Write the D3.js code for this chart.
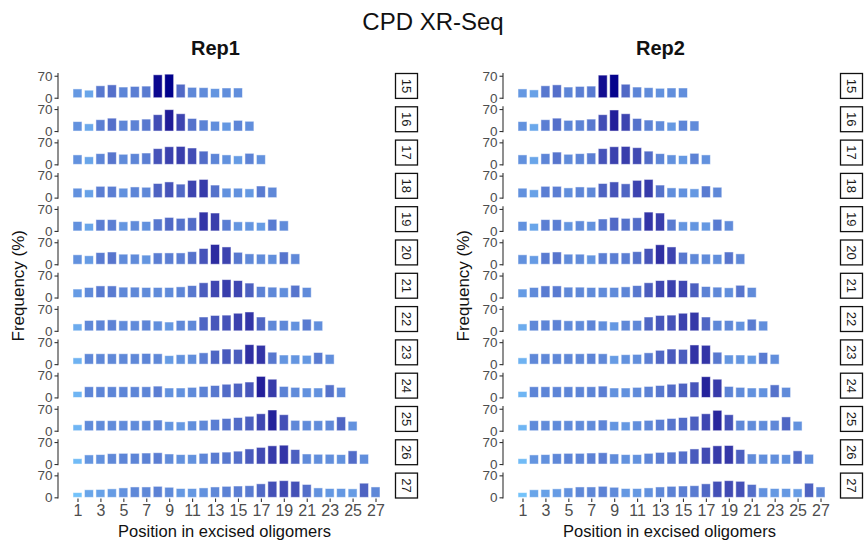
<!DOCTYPE html>
<html>
<head>
<meta charset="utf-8">
<script src="https://cdn.jsdelivr.net/npm/d3@7"></script>
<style>
  html, body { margin: 0; padding: 0; background: #fff; }
  svg { display: block; font-family: "Liberation Sans", Arial, Helvetica, sans-serif; }
</style>
</head>
<body>
<svg id="chart" width="867" height="548"></svg>
<script>
// Oligomer lengths (one facet row each) and x-axis tick labels
const lengths = [15, 16, 17, 18, 19, 20, 21, 22, 23, 24, 25, 26, 27];
const xTicks = [1, 3, 5, 7, 9, 11, 13, 15, 17, 19, 21, 23, 25, 27];
const yTicks = [0, 70];
const replicates = ["Rep1", "Rep2"];

// Rep1: frequency (%) at each position of the excised oligomer
const rep1_15 = [28, 24, 38, 41, 34, 36, 37, 73, 75, 43, 33, 32, 29, 31, 31];
const rep1_16 = [30, 23, 36, 41, 34, 35, 38, 52, 68, 55, 40, 35, 31, 28, 34, 31];
const rep1_17 = [30, 24, 34, 39, 32, 34, 36, 50, 56, 57, 52, 42, 34, 30, 27, 35, 30];
const rep1_18 = [30, 25, 36, 36, 30, 34, 33, 45, 50, 43, 55, 58, 40, 30, 30, 28, 37, 33];
const rep1_19 = [30, 24, 36, 36, 29, 32, 30, 38, 43, 40, 42, 60, 57, 36, 29, 29, 27, 37, 32];
const rep1_20 = [30, 27, 37, 39, 32, 32, 29, 36, 36, 36, 40, 50, 63, 55, 38, 33, 32, 31, 39, 33];
const rep1_21 = [27, 32, 37, 37, 33, 33, 32, 32, 32, 34, 38, 47, 54, 57, 54, 46, 35, 33, 31, 39, 32];
const rep1_22 = [22, 33, 34, 35, 32, 32, 34, 31, 28, 33, 33, 44, 49, 50, 56, 60, 44, 33, 33, 30, 37, 31];
const rep1_23 = [20, 33, 33, 33, 33, 33, 34, 33, 27, 30, 31, 36, 44, 48, 47, 62, 60, 38, 29, 29, 28, 37, 31];
const rep1_24 = [19, 34, 34, 34, 34, 34, 34, 36, 30, 30, 32, 35, 38, 42, 45, 49, 67, 58, 35, 32, 30, 30, 40, 32];
const rep1_25 = [19, 32, 32, 32, 32, 32, 32, 34, 29, 28, 31, 33, 36, 39, 42, 46, 54, 66, 51, 33, 32, 32, 33, 44, 30];
const rep1_26 = [17, 29, 30, 33, 34, 34, 35, 36, 32, 30, 30, 34, 37, 38, 41, 48, 53, 58, 60, 46, 32, 31, 31, 30, 42, 31];
const rep1_27 = [15, 24, 25, 27, 30, 33, 33, 35, 32, 28, 28, 30, 33, 35, 36, 37, 43, 51, 53, 51, 41, 30, 28, 28, 27, 45, 33];

// Rep2: frequency (%) at each position of the excised oligomer
const rep2_15 = [28, 25, 38, 41, 34, 36, 37, 72, 74, 43, 34, 32, 30, 31, 31];
const rep2_16 = [30, 23, 36, 41, 34, 35, 38, 52, 67, 55, 40, 35, 32, 28, 34, 32];
const rep2_17 = [30, 24, 34, 39, 32, 34, 36, 50, 56, 57, 53, 42, 34, 30, 28, 35, 30];
const rep2_18 = [30, 25, 36, 36, 31, 34, 33, 45, 50, 44, 55, 58, 40, 31, 30, 28, 37, 33];
const rep2_19 = [30, 24, 36, 36, 29, 32, 30, 38, 43, 40, 42, 60, 57, 37, 29, 29, 28, 37, 32];
const rep2_20 = [30, 27, 37, 39, 32, 32, 29, 36, 36, 36, 40, 50, 62, 55, 38, 33, 32, 31, 39, 33];
const rep2_21 = [27, 32, 37, 37, 33, 33, 32, 32, 32, 34, 38, 47, 54, 56, 54, 46, 35, 33, 31, 39, 32];
const rep2_22 = [22, 33, 34, 35, 32, 32, 34, 31, 28, 33, 33, 44, 49, 50, 56, 59, 44, 33, 33, 30, 37, 31];
const rep2_23 = [20, 33, 33, 33, 33, 33, 34, 33, 27, 30, 31, 36, 44, 48, 47, 61, 60, 38, 29, 29, 28, 37, 31];
const rep2_24 = [19, 34, 34, 34, 34, 34, 34, 36, 30, 30, 32, 35, 38, 42, 45, 49, 66, 58, 35, 32, 30, 30, 40, 32];
const rep2_25 = [19, 32, 32, 32, 32, 32, 32, 34, 29, 28, 31, 33, 36, 39, 42, 46, 54, 65, 51, 33, 32, 32, 33, 44, 30];
const rep2_26 = [17, 29, 30, 33, 34, 34, 35, 36, 32, 30, 30, 34, 37, 38, 41, 48, 53, 58, 59, 46, 32, 31, 31, 30, 42, 31];
const rep2_27 = [15, 24, 25, 27, 30, 33, 33, 35, 32, 28, 28, 30, 33, 35, 36, 37, 43, 51, 53, 51, 41, 30, 28, 28, 27, 45, 33];

const rep1Rows = [rep1_15, rep1_16, rep1_17, rep1_18, rep1_19, rep1_20, rep1_21,
                  rep1_22, rep1_23, rep1_24, rep1_25, rep1_26, rep1_27];
const rep2Rows = [rep2_15, rep2_16, rep2_17, rep2_18, rep2_19, rep2_20, rep2_21,
                  rep2_22, rep2_23, rep2_24, rep2_25, rep2_26, rep2_27];
const repRows = [rep1Rows, rep2Rows];

// ---- layout ----
const svg = d3.select("#chart");
const panelX = [58, 503];      // left edge of each replicate's panel column
const panelW = 337;
const stripW = 23;
const rowTop = 73;
const rowStep = 33.3;
const panelH = 25.9;
const axisColor = "#333333";
const tickTextColor = "#4d4d4d";

// shared fill scale across both replicates
const allVals = repRows.flat(2);
const color = d3.scaleLinear()
  .domain([d3.min(allVals), d3.max(allVals)])
  .range(["#73c2fa", "#00008b"])
  .interpolate(d3.interpolateLab);

// x: continuous positions with ggplot-style expansion
const xBase = d3.scaleLinear().domain([-0.7, 28.7]).range([0, panelW]);
// y within one facet row
const y = d3.scaleLinear().domain([-3.75, 78.75]).range([panelH, 0]);
const barW = 0.78;

// title
svg.append("text")
  .attr("x", 433).attr("y", 30)
  .attr("text-anchor", "middle")
  .attr("font-size", 24)
  .attr("fill", "#111")
  .text("CPD XR-Seq");

replicates.forEach((rep, ri) => {
  const g = svg.append("g").attr("transform", `translate(${panelX[ri]},0)`);
  const rows = repRows[ri];

  // replicate header
  g.append("text")
    .attr("x", panelW / 2 - 11).attr("y", 55)
    .attr("text-anchor", "middle")
    .attr("font-size", 20)
    .attr("font-weight", "bold")
    .attr("fill", "#111")
    .text(rep);

  lengths.forEach((len, li) => {
    const top = rowTop + li * rowStep;
    const row = g.append("g").attr("transform", `translate(0,${top})`);
    const vals = rows[li];
    const data = vals.map((v, i) => ({ pos: i + 1, v }));

    // bars
    row.selectAll("rect.bar")
      .data(data)
      .join("rect")
      .attr("class", "bar")
      .attr("x", d => xBase(d.pos - barW / 2))
      .attr("width", xBase(barW) - xBase(0))
      .attr("y", d => y(d.v))
      .attr("height", d => y(0) - y(d.v))
      .attr("fill", d => color(d.v))
      .attr("stroke", "#ffffff")
      .attr("stroke-opacity", 0.55)
      .attr("stroke-width", 0.9);

    // y axis
    const yAxis = d3.axisLeft(y).tickValues(yTicks).tickSize(3.5).tickPadding(2);
    const ya = row.append("g").call(yAxis);
    ya.select(".domain").attr("stroke", axisColor).attr("stroke-width", 1.1)
      .attr("d", `M0,0V${panelH}`);
    ya.selectAll(".tick line").attr("stroke", axisColor).attr("stroke-width", 1.1);
    ya.selectAll(".tick text")
      .attr("fill", tickTextColor)
      .attr("font-size", 13.5)
      .attr("font-family", "Liberation Sans, Arial, sans-serif");

    // facet strip on the right
    row.append("rect")
      .attr("x", panelW + 0.5).attr("y", 0.5)
      .attr("width", stripW - 1).attr("height", panelH - 1)
      .attr("fill", "#fff")
      .attr("stroke", "#111")
      .attr("stroke-width", 1.3);
    row.append("text")
      .attr("transform", `translate(${panelW + stripW / 2},${panelH / 2}) rotate(90)`)
      .attr("text-anchor", "middle")
      .attr("dy", "0.35em")
      .attr("font-size", 13)
      .attr("fill", "#1a1a1a")
      .text(len);
  });

  // x axis under the last row
  const bottom = rowTop + (lengths.length - 1) * rowStep + panelH;
  const xAxis = d3.axisBottom(xBase).tickValues(xTicks).tickSize(3.5).tickPadding(3);
  const xa = g.append("g").attr("transform", `translate(0,${bottom})`).call(xAxis);
  xa.select(".domain").remove();
  xa.selectAll(".tick line").attr("stroke", axisColor).attr("stroke-width", 1.1);
  xa.selectAll(".tick text")
    .attr("fill", tickTextColor)
    .attr("font-size", 16)
    .attr("font-family", "Liberation Sans, Arial, sans-serif");

  // axis titles
  g.append("text")
    .attr("x", panelW / 2 - 2).attr("y", 537)
    .attr("text-anchor", "middle")
    .attr("font-size", 16.5)
    .attr("fill", "#111")
    .text("Position in excised oligomers");

  g.append("text")
    .attr("transform", `translate(-34,${(rowTop + bottom) / 2}) rotate(-90)`)
    .attr("text-anchor", "middle")
    .attr("font-size", 17)
    .attr("fill", "#111")
    .text("Frequency (%)");
});
</script>
</body>
</html>
